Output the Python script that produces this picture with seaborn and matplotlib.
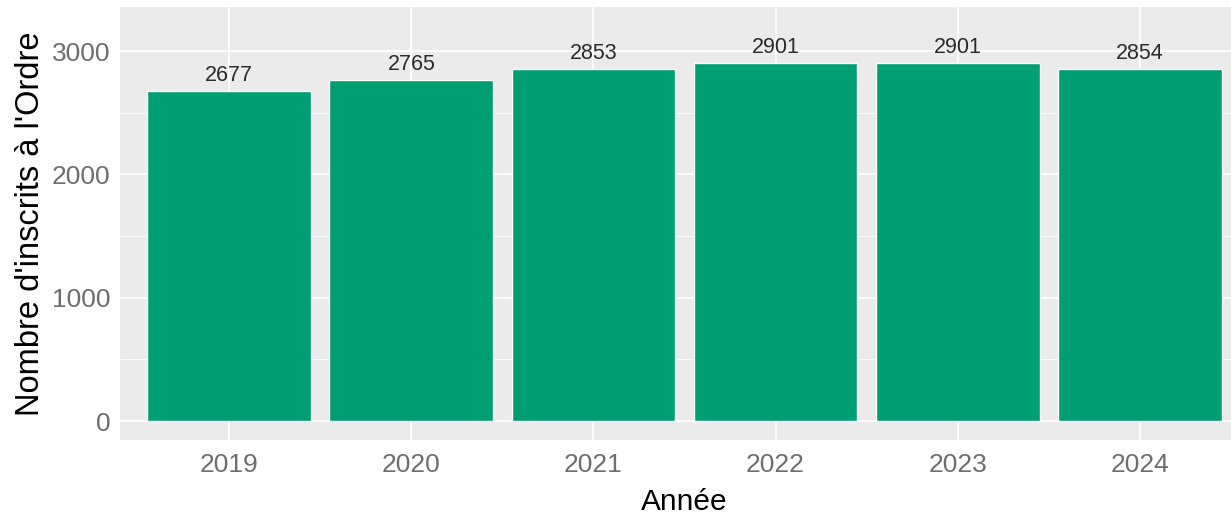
import matplotlib
matplotlib.use("Agg")
import matplotlib.pyplot as plt
import seaborn as sns
import pandas as pd

annees = ["2019", "2020", "2021", "2022", "2023", "2024"]
inscrits = [2677, 2765, 2853, 2901, 2901, 2854]
yticks = [0, 1000, 2000, 3000]

sns.set_theme(style="darkgrid")
plt.rcParams['font.family'] = ['Liberation Sans', 'DejaVu Sans']

df = pd.DataFrame({"Année": annees, "Inscrits": inscrits})

W, H = 1231, 514
fig = plt.figure(figsize=(W / 100, H / 100), dpi=100)
x0, x1 = 120, 1249
y0, y1 = 7, 440
ax = fig.add_axes([x0 / W, 1 - y1 / H, (x1 - x0) / W, (y1 - y0) / H])
ax.set_facecolor("#EBEBEB")

sns.barplot(data=df, x="Année", y="Inscrits", color="#009E73", width=0.9,
            saturation=1, ax=ax, zorder=3)

for i, v in enumerate(inscrits):
    ax.text(i, v + 40, str(v), ha="center", va="bottom", fontsize=15.5,
            color="#2B2B2B", zorder=4)

ax.set_xlim(-0.6, 5.6)
ax.set_ylim(-154, 3357)
ax.set_yticks(yticks)
ax.set_yticks([500, 1500, 2500], minor=True)
ax.grid(which="major", color="white", linewidth=1.3, zorder=0)
ax.grid(which="minor", axis="y", color="white", linewidth=0.6, zorder=0)

for s in ax.spines.values():
    s.set_visible(False)

ax.tick_params(axis="both", which="major", length=4, color="#555555",
               labelsize=19, labelcolor="#6E6E6E", pad=3, width=0.8)
ax.tick_params(axis="x", which="major", pad=5)
ax.tick_params(axis="both", which="minor", length=0)
ax.set_xlabel("Année", fontsize=21.5, color="black", labelpad=8)
ax.set_ylabel("Nombre d'inscrits à l'Ordre", fontsize=23.5, color="black", labelpad=4)

fig.savefig("out.png", dpi=100, facecolor="white")
